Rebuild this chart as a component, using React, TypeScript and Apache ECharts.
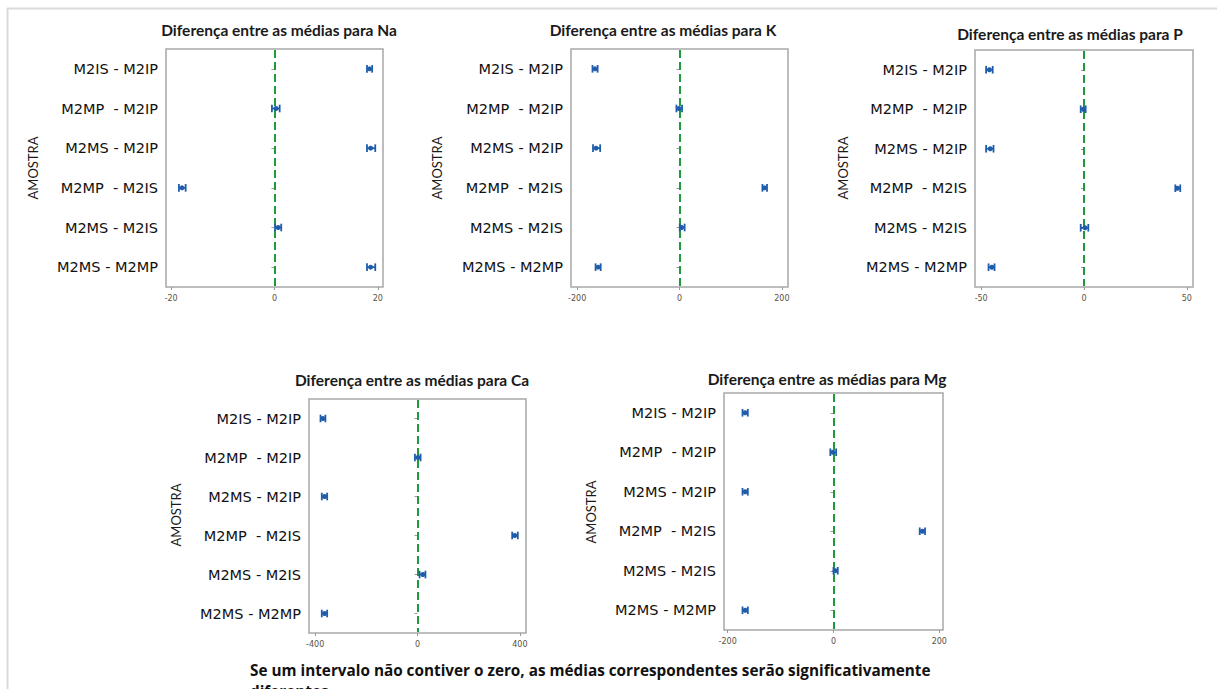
import React, { useEffect, useRef } from "react";
import * as echarts from "echarts";

const categories = ["M2IS - M2IP", "M2MP  - M2IP", "M2MS - M2IP", "M2MP  - M2IS", "M2MS - M2IS", "M2MS - M2MP"];

const naLow = [17.9, -0.5, 17.9, -18.5, 0.1, 17.9];
const naMean = [18.4, 0.3, 18.6, -17.9, 0.7, 18.6];
const naHigh = [18.9, 1.0, 19.5, -17.2, 1.3, 19.5];
const naTicks = [-20, 0, 20];

const kLow = [-170, -6, -169, 162, 0.5, -164];
const kMean = [-165, -1, -163, 166, 4, -159];
const kHigh = [-160, 5, -155, 171, 10, -154];
const kTicks = [-200, 0, 200];

const pLow = [-47.6, -1.6, -47.6, 44.4, -1.6, -46.4];
const pMean = [-46, -0.3, -45.6, 45.4, 0.5, -44.8];
const pHigh = [-44.4, 0.8, -44, 46.8, 2.1, -43.5];
const pTicks = [-50, 0, 50];

const caLow = [-379, -10, -374, 370, 8, -374];
const caMean = [-370, 2, -363, 380, 21, -363];
const caHigh = [-360, 12, -353, 392, 31, -353];
const caTicks = [-400, 0, 400];

const mgLow = [-172, -6, -172, 163, 0, -172];
const mgMean = [-167, -1, -167, 168, 3, -167];
const mgHigh = [-162, 5, -162, 173, 8, -162];
const mgTicks = [-200, 0, 200];

const titles = [
  "Diferença entre as médias para Na",
  "Diferença entre as médias para K",
  "Diferença entre as médias para P",
  "Diferença entre as médias para Ca",
  "Diferença entre as médias para Mg",
];
const yName = "AMOSTRA";
const footer1 = "Se um intervalo não contiver o zero, as médias correspondentes serão significativamente";
const footer2 = "diferentes.";

const panels = [
  { low: naLow, mean: naMean, high: naHigh, ticks: naTicks, range: 21, grid: { left: 166, top: 49, width: 217, height: 238 }, title: [279, 30], name: [33, 168] },
  { low: kLow, mean: kMean, high: kHigh, ticks: kTicks, range: 212, grid: { left: 571, top: 49, width: 217, height: 238 }, title: [663, 30], name: [437, 168] },
  { low: pLow, mean: pMean, high: pHigh, ticks: pTicks, range: 53, grid: { left: 975, top: 50, width: 218, height: 237 }, title: [1070, 34], name: [843, 168] },
  { low: caLow, mean: caMean, high: caHigh, ticks: caTicks, range: 424, grid: { left: 309, top: 399, width: 217, height: 234 }, title: [412, 380], name: [176, 515] },
  { low: mgLow, mean: mgMean, high: mgHigh, ticks: mgTicks, range: 207, grid: { left: 724, top: 393, width: 219, height: 237 }, title: [827, 379], name: [591, 512] },
];

const BLUE = "#1f5dab";
const GREEN = "#1e9a3c";

export default function App() {
  const ref = useRef<HTMLDivElement>(null);
  useEffect(() => {
    if (!ref.current) return;
    const chart = echarts.init(ref.current, null, { renderer: "svg" });
    const grids: any[] = [];
    const xAxes: any[] = [];
    const yAxes: any[] = [];
    const series: any[] = [];
    const graphics: any[] = [];

    panels.forEach((p, i) => {
      grids.push({
        ...p.grid,
        show: true,
        borderColor: "#a8a8a8",
        borderWidth: 1.5,
        backgroundColor: "transparent",
        containLabel: false,
      });
      xAxes.push({
        type: "value",
        gridIndex: i,
        min: -p.range,
        max: p.range,
        axisLine: { show: false },
        splitLine: { show: false },
        axisTick: { show: true, length: 3, customValues: p.ticks, lineStyle: { color: "#999" } },
        axisLabel: {
          customValues: p.ticks,
          fontSize: 8,
          color: "#5a5040",
          fontFamily: "DejaVu Sans",
          margin: 7,
        },
      });
      yAxes.push({
        type: "category",
        gridIndex: i,
        data: categories,
        inverse: true,
        axisLine: { show: false },
        splitLine: { show: false },
        axisTick: { show: true, alignWithLabel: true, length: 3, lineStyle: { color: "#999" } },
        axisLabel: { fontSize: 14.5, color: "#111", fontFamily: "DejaVu Sans", margin: 8 },
      });
      series.push({
        type: "custom",
        xAxisIndex: i,
        yAxisIndex: i,
        silent: true,
        clip: false,
        z: 1,
        data: [[0, 0]],
        encode: { x: 0, y: 1 },
        renderItem: (params: any, api: any) => {
          const c = api.coord([0, 0]);
          const cs = params.coordSys;
          const x = Math.round(c[0]) - 1;
          const dashes: any[] = [];
          const top = cs.y + 1;
          const bottom = cs.y + cs.height - 1;
          for (let y = top; y < bottom; y += 12) {
            dashes.push({
              type: "rect",
              shape: { x, y, width: 2, height: Math.min(8, bottom - y) },
              style: { fill: GREEN },
            });
          }
          return { type: "group", children: dashes };
        },
      });
      series.push({
        type: "custom",
        xAxisIndex: i,
        yAxisIndex: i,
        silent: true,
        z: 2,
        data: categories.map((_, k) => [p.low[k], p.mean[k], p.high[k], k]),
        encode: { x: [0, 1, 2], y: 3 },
        renderItem: (_params: any, api: any) => {
          const idx = api.value(3);
          const lo = api.coord([api.value(0), idx]);
          const mid = api.coord([api.value(1), idx]);
          const hi = api.coord([api.value(2), idx]);
          const h = 3.8;
          const st = { stroke: BLUE, lineWidth: 1.8 };
          return {
            type: "group",
            children: [
              { type: "line", shape: { x1: lo[0], y1: lo[1], x2: hi[0], y2: hi[1] }, style: st },
              { type: "line", shape: { x1: lo[0], y1: lo[1] - h, x2: lo[0], y2: lo[1] + h }, style: st },
              { type: "line", shape: { x1: hi[0], y1: hi[1] - h, x2: hi[0], y2: hi[1] + h }, style: st },
              { type: "circle", shape: { cx: mid[0], cy: mid[1], r: 2.5 }, style: { fill: BLUE } },
            ],
          };
        },
      });
      graphics.push({
        type: "text",
        x: p.title[0],
        y: p.title[1],
        style: {
          text: titles[i],
          align: "center",
          verticalAlign: "middle",
          font: "bold 15.5px Lato",
          fill: "#1a1a1a",
        },
      });
      graphics.push({
        type: "text",
        x: p.name[0],
        y: p.name[1],
        rotation: Math.PI / 2,
        style: {
          text: yName,
          align: "center",
          verticalAlign: "middle",
          font: "13px Lato",
          fill: "#1a1a1a",
        },
      });
    });

    graphics.push({
      type: "line",
      shape: { x1: 7, y1: 8.5, x2: 1217, y2: 8.5 },
      style: { stroke: "#dadada", lineWidth: 2 },
    });
    graphics.push({
      type: "line",
      shape: { x1: 7.5, y1: 8, x2: 7.5, y2: 689 },
      style: { stroke: "#dadada", lineWidth: 2 },
    });
    graphics.push({
      type: "text",
      x: 250,
      y: 670,
      style: { text: footer1, align: "left", verticalAlign: "middle", font: "bold 15.3px 'Open Sans'", fill: "#111" },
    });
    graphics.push({
      type: "text",
      x: 250,
      y: 691,
      style: { text: footer2, align: "left", verticalAlign: "middle", font: "bold 15.3px 'Open Sans'", fill: "#111" },
    });

    chart.setOption({
      animation: false,
      backgroundColor: "#fff",
      grid: grids,
      xAxis: xAxes,
      yAxis: yAxes,
      series,
      graphic: graphics,
    });
    return () => chart.dispose();
  }, []);
  return (
    <div
      ref={ref}
      style={{ position: "fixed", left: 0, top: 0, width: 1217, height: 689 }}
    />
  );
}
